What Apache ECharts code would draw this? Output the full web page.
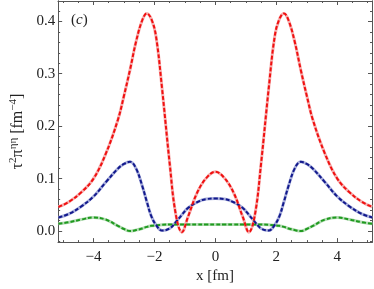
<!DOCTYPE html>
<html>
<head>
<meta charset="utf-8">
<script src="https://cdn.jsdelivr.net/npm/echarts@6/dist/echarts.min.js"></script>
<style>html,body{margin:0;padding:0;background:#fff}#c{width:374px;height:289px}</style>
</head>
<body>
<div id="c"></div>
<script>
const xs = [-5.15,-4.8,-4.4,-4.0,-3.6,-3.2,-3.0,-2.8,-2.6,-2.4,-2.25,-2.1,-1.95,-1.75,-1.5,-1.3,-1.1,-0.9,-0.6,-0.3,0,
            0.3,0.6,0.9,1.1,1.3,1.5,1.75,1.95,2.1,2.25,2.4,2.6,2.8,3.0,3.2,3.6,4.0,4.4,4.8,5.15];
const redVals = [0.046,0.056,0.074,0.100,0.147,0.212,0.258,0.308,0.362,0.402,0.415,0.404,0.372,0.272,0.129,0.032,-0.002,0.027,0.073,0.101,0.113,
                 0.101,0.073,0.027,-0.002,0.032,0.129,0.272,0.372,0.404,0.415,0.402,0.362,0.308,0.258,0.212,0.147,0.100,0.074,0.056,0.046];
const blueVals = [0.026,0.033,0.047,0.066,0.093,0.119,0.128,0.132,0.119,0.086,0.056,0.028,0.012,0.001,0.005,0.017,0.031,0.044,0.055,0.061,0.062,
                  0.061,0.055,0.044,0.031,0.017,0.005,0.001,0.012,0.028,0.056,0.086,0.119,0.132,0.128,0.119,0.093,0.066,0.047,0.033,0.026];
const greenVals = [0.014,0.017,0.022,0.026,0.022,0.010,0.004,0.000,0.002,0.005,0.008,0.010,0.011,0.012,0.0125,0.0125,0.0125,0.0125,0.0125,0.0125,0.0125,
                   0.0125,0.0125,0.0125,0.0125,0.0125,0.0125,0.012,0.011,0.010,0.008,0.005,0.002,0.000,0.004,0.010,0.022,0.026,0.022,0.017,0.014];
const xMajor = [-4,-2,0,2,4];
const xMinor = [-5,-4.5,-3.5,-3,-2.5,-1.5,-1,-0.5,0.5,1,1.5,2.5,3,3.5,4.5,5];
const yMajor = [0,0.1,0.2,0.3,0.4];
const yMinor = [-0.02,0.02,0.04,0.06,0.08,0.12,0.14,0.16,0.18,0.22,0.24,0.26,0.28,0.32,0.34,0.36,0.38,0.42];

const XMIN = -5.16, XMAX = 5.14, YMIN = -0.021, YMAX = 0.4387;
const frame = '#555';
const font = 'Liberation Serif';

function xAx(pos, vals, len, labels, extra) {
  return Object.assign({
    type: 'value', position: pos, min: XMIN, max: XMAX,
    axisLine: { show: true, onZero: false, lineStyle: { color: frame, width: 1 } },
    axisTick: { show: true, inside: true, length: len, customValues: vals, lineStyle: { color: frame } },
    axisLabel: labels ? { show: true, customValues: vals, color: '#222', fontFamily: font, fontSize: 15, margin: 7,
      formatter: v => String(v).replace('-', '\u2212') } : { show: false },
    splitLine: { show: false }
  }, extra || {});
}
function yAx(pos, vals, len, labels, extra) {
  return Object.assign({
    type: 'value', position: pos, min: YMIN, max: YMAX,
    axisLine: { show: true, onZero: false, lineStyle: { color: frame, width: 1 } },
    axisTick: { show: true, inside: true, length: len, customValues: vals, lineStyle: { color: frame } },
    axisLabel: labels ? { show: true, customValues: vals, color: '#222', fontFamily: font, fontSize: 15, margin: 3,
      formatter: v => v.toFixed(1) } : { show: false },
    splitLine: { show: false }
  }, extra || {});
}

function pairs(vals) { return xs.map((x, i) => [x, vals[i]]); }
function curve(vals, color, light) {
  return [
    { type: 'line', data: pairs(vals), smooth: 0.4, showSymbol: false, silent: true, z: 2,
      lineStyle: { color: light, width: 3 } },
    { type: 'line', data: pairs(vals), smooth: 0.4, showSymbol: false, silent: true, z: 3,
      lineStyle: { color: color, width: 2, type: [4, 2] } }
  ];
}

const chart = echarts.init(document.getElementById('c'), null, { renderer: 'canvas' });
chart.setOption({
  animation: false,
  backgroundColor: '#fff',
  grid: { left: 43, right: 2, top: 1, bottom: 42, containLabel: false },
  xAxis: [
    xAx('bottom', xMajor, 4, true, {
      name: 'x [fm]', nameLocation: 'middle', nameGap: 26,
      nameTextStyle: { color: '#222', fontFamily: font, fontSize: 15 }
    }),
    xAx('bottom', xMinor, 2, false),
    xAx('top', xMajor, 4, false),
    xAx('top', xMinor, 2, false)
  ],
  yAxis: [
    yAx('left', yMajor, 4, true, {
      name: '{a|τ}{s|2}{a|π}{s|ηη}{a| [fm}{s|−4}{a|]}', nameLocation: 'middle', nameGap: 25, nameRotate: 90,
      nameTextStyle: {
        color: '#222', fontFamily: font, fontSize: 16, padding: [0, 20, 0, 0],
        rich: {
          a: { fontFamily: font, fontSize: 16, color: '#222', lineHeight: 19 },
          s: { fontFamily: font, fontSize: 11, color: '#222', verticalAlign: 'top', lineHeight: 19 }
        }
      }
    }),
    yAx('left', yMinor, 2, false),
    yAx('right', yMajor, 4, false),
    yAx('right', yMinor, 2, false)
  ],
  graphic: [{
    type: 'text', left: 71, top: 13,
    style: {
      text: '{p|(}{i|c}{p|)}',
      rich: {
        p: { fontFamily: font, fontSize: 15, fill: '#222' },
        i: { fontFamily: font, fontSize: 15, fontStyle: 'italic', fill: '#222' }
      }
    }
  }],
  series: [
    ...curve(greenVals, '#1f9a1f', '#b4dcb4'),
    ...curve(blueVals, '#12198c', '#aab0dc'),
    ...curve(redVals, '#f01010', '#f6b0b0')
  ]
});
</script>
</body>
</html>
